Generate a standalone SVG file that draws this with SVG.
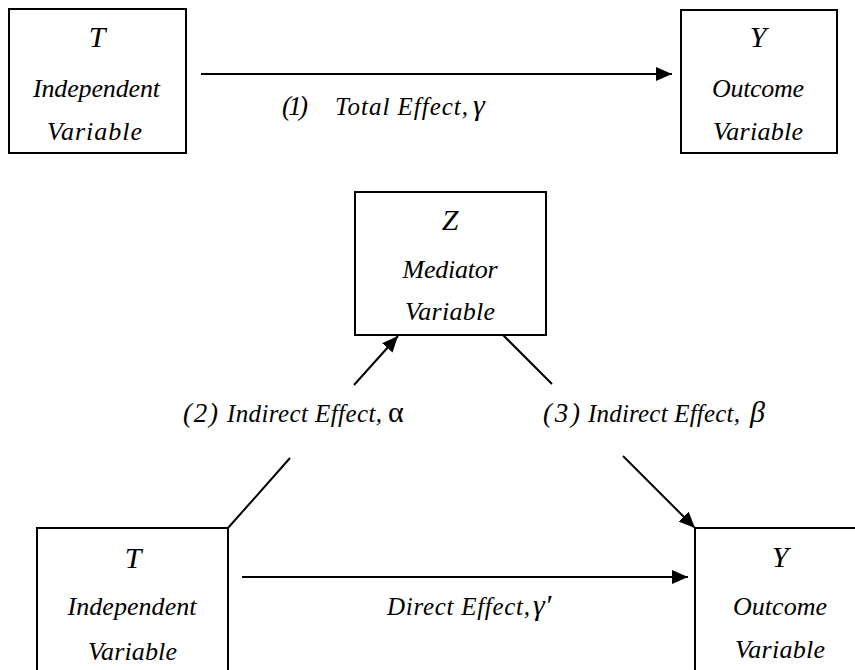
<svg xmlns="http://www.w3.org/2000/svg" width="855" height="670" viewBox="0 0 855 670">
<style>
.box{fill:#fff;stroke:#000;stroke-width:2}
.t{font-family:"Liberation Serif","Times New Roman",serif;font-style:italic;fill:#000;text-anchor:middle}
.big{font-size:30px}
.mid{font-size:26px}
.lab{font-family:"Liberation Serif","Times New Roman",serif;font-style:italic;fill:#000;font-size:25px}
.gr{font-family:"Liberation Serif","Times New Roman",serif;fill:#000;font-size:30px}
.ln{stroke:#000;stroke-width:2;fill:none}
</style>
<defs>
<marker id="ah" markerWidth="16" markerHeight="14" refX="16" refY="7" orient="auto" markerUnits="userSpaceOnUse">
<path d="M0,0 L16,7 L0,14 Z" fill="#000"/>
</marker>
</defs>
<rect width="855" height="670" fill="#fff"/>
<g id="connectors">
<line class="ln" x1="201" y1="74" x2="672" y2="74" marker-end="url(#ah)"/>
<line class="ln" x1="242" y1="577" x2="688" y2="577" marker-end="url(#ah)"/>
<line class="ln" x1="228" y1="528" x2="290" y2="458"/>
<line class="ln" x1="354" y1="385" x2="398" y2="336" marker-end="url(#ah)"/>
<line class="ln" x1="503" y1="335" x2="552" y2="384"/>
<line class="ln" x1="623" y1="456" x2="695" y2="528" marker-end="url(#ah)"/>
<text class="lab" x="282" y="115"><tspan font-size="27" textLength="26">(1)</tspan><tspan x="335" textLength="133">Total  Effect,</tspan></text>
<text class="gr" x="473" y="115" font-style="italic" font-size="28">γ</text>
<text class="lab" x="183" y="422"><tspan font-size="27" textLength="35">(2)</tspan><tspan x="227" textLength="155">Indirect Effect,</tspan></text>
<text class="gr" x="388" y="422">α</text>
<text class="lab" x="543" y="422"><tspan font-size="27" textLength="37">(3)</tspan><tspan x="588" textLength="152">Indirect Effect,</tspan></text>
<text class="gr" x="750" y="422" font-style="italic">β</text>
<text class="lab" x="387" y="615" textLength="143">Direct Effect,</text>
<text class="gr" x="533" y="615" font-style="italic" font-size="28">γ′</text>
</g>
<g id="node-T-top">
<rect class="box" x="9" y="9" width="177" height="144"/>
<text class="t big" x="97" y="47">T</text>
<text class="t mid" x="96.5" y="97" textLength="127">Independent</text>
<text class="t mid" x="94.5" y="140" textLength="95">Variable</text>
</g>
<g id="node-Y-top">
<rect class="box" x="681" y="10" width="156" height="143"/>
<text class="t big" x="758" y="47">Y</text>
<text class="t mid" x="758" y="97" textLength="92">Outcome</text>
<text class="t mid" x="758" y="140" textLength="90">Variable</text>
</g>
<g id="node-Z">
<rect class="box" x="355" y="192" width="191" height="143"/>
<text class="t big" x="450" y="230">Z</text>
<text class="t mid" x="450" y="278" textLength="95">Mediator</text>
<text class="t mid" x="450" y="320" textLength="90">Variable</text>
</g>
<g id="node-T-bottom">
<rect class="box" x="37" y="528" width="191" height="160"/>
<text class="t big" x="133" y="568">T</text>
<text class="t mid" x="132" y="615" textLength="129">Independent</text>
<text class="t mid" x="132.5" y="660" textLength="89">Variable</text>
</g>
<g id="node-Y-bottom">
<rect class="box" x="695" y="528" width="180" height="160"/>
<text class="t big" x="780" y="567">Y</text>
<text class="t mid" x="780" y="615" textLength="94">Outcome</text>
<text class="t mid" x="780" y="658" textLength="90">Variable</text>
</g>
</svg>
